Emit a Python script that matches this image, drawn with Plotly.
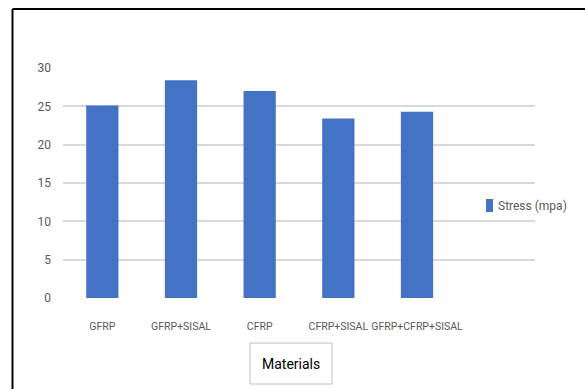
import plotly.graph_objects as go

# Stress per material
materials = ["GFRP", "GFRP+SISAL", "CFRP", "CFRP+SISAL", "GFRP+CFRP+SISAL"]
stress_mpa = [25.1, 28.4, 27.0, 23.4, 24.3]
y_ticks = [0, 5, 10, 15, 20, 25, 30]
series_name = "Stress (mpa)"
x_title = "Materials"

W, H = 585, 389
FONT = "Roboto, Liberation Sans, sans-serif"
BAR_COLOR = "#4472C4"
TICK_COLOR = "#595959"

positions = list(range(len(materials)))

fig = go.Figure(
    go.Bar(
        x=positions,
        y=stress_mpa,
        name=series_name,
        marker=dict(color=BAR_COLOR, line=dict(width=0)),
        width=0.41,
        showlegend=False,
    )
)

left, right, top, bottom = 63, 535, 68, 298

fig.update_layout(
    width=W,
    height=H,
    margin=dict(l=0, r=0, t=0, b=0, autoexpand=False),
    paper_bgcolor="white",
    plot_bgcolor="white",
    font=dict(family=FONT, size=12, color=TICK_COLOR),
    xaxis=dict(
        domain=[left / W, right / W],
        range=[-0.5, 5.5],
        tickvals=positions,
        ticktext=materials,
        tickangle=0,
        automargin=False,
        showgrid=False,
        zeroline=False,
        showline=False,
        ticks="",
        ticklen=0,
        ticklabelstandoff=20,
        tickfont=dict(family=FONT, size=10.5, color=TICK_COLOR),
    ),
    yaxis=dict(
        domain=[1 - bottom / H, 1 - top / H],
        range=[0, 30],
        tickvals=y_ticks,
        automargin=False,
        showgrid=True,
        gridcolor="#d9d9d9",
        gridwidth=1.5,
        zeroline=False,
        showline=False,
        ticks="",
        tickfont=dict(family=FONT, size=12, color=TICK_COLOR),
        ticklabelstandoff=11,
    ),
    shapes=[
        # outer frame (top and left edges)
        dict(type="line", xref="paper", yref="paper",
             x0=12.5 / W, x1=1.0, y0=1 - 9 / H, y1=1 - 9 / H,
             line=dict(color="black", width=2)),
        dict(type="line", xref="paper", yref="paper",
             x0=12.5 / W, x1=12.5 / W, y0=1 - 9 / H, y1=0,
             line=dict(color="black", width=2)),
        # axis-title box
        dict(type="rect", xref="paper", yref="paper",
             x0=250 / W, x1=332 / W, y0=1 - 384 / H, y1=1 - 343 / H,
             line=dict(color="#bfbfbf", width=1)),
        # legend swatch
        dict(type="rect", xref="paper", yref="paper",
             x0=486 / W, x1=493 / W, y0=1 - 212 / H, y1=1 - 199 / H,
             fillcolor=BAR_COLOR, line=dict(width=0)),
    ],
    annotations=[
        dict(text=x_title, xref="paper", yref="paper",
             x=291 / W, y=1 - 364 / H, xanchor="center", yanchor="middle",
             showarrow=False, font=dict(family=FONT, size=14, color="black")),
        dict(text=series_name, xref="paper", yref="paper",
             x=496 / W, y=1 - 206 / H, xanchor="left", yanchor="middle",
             showarrow=False, font=dict(family=FONT, size=12, color=TICK_COLOR)),
    ],
)

fig.write_html("out.html")
